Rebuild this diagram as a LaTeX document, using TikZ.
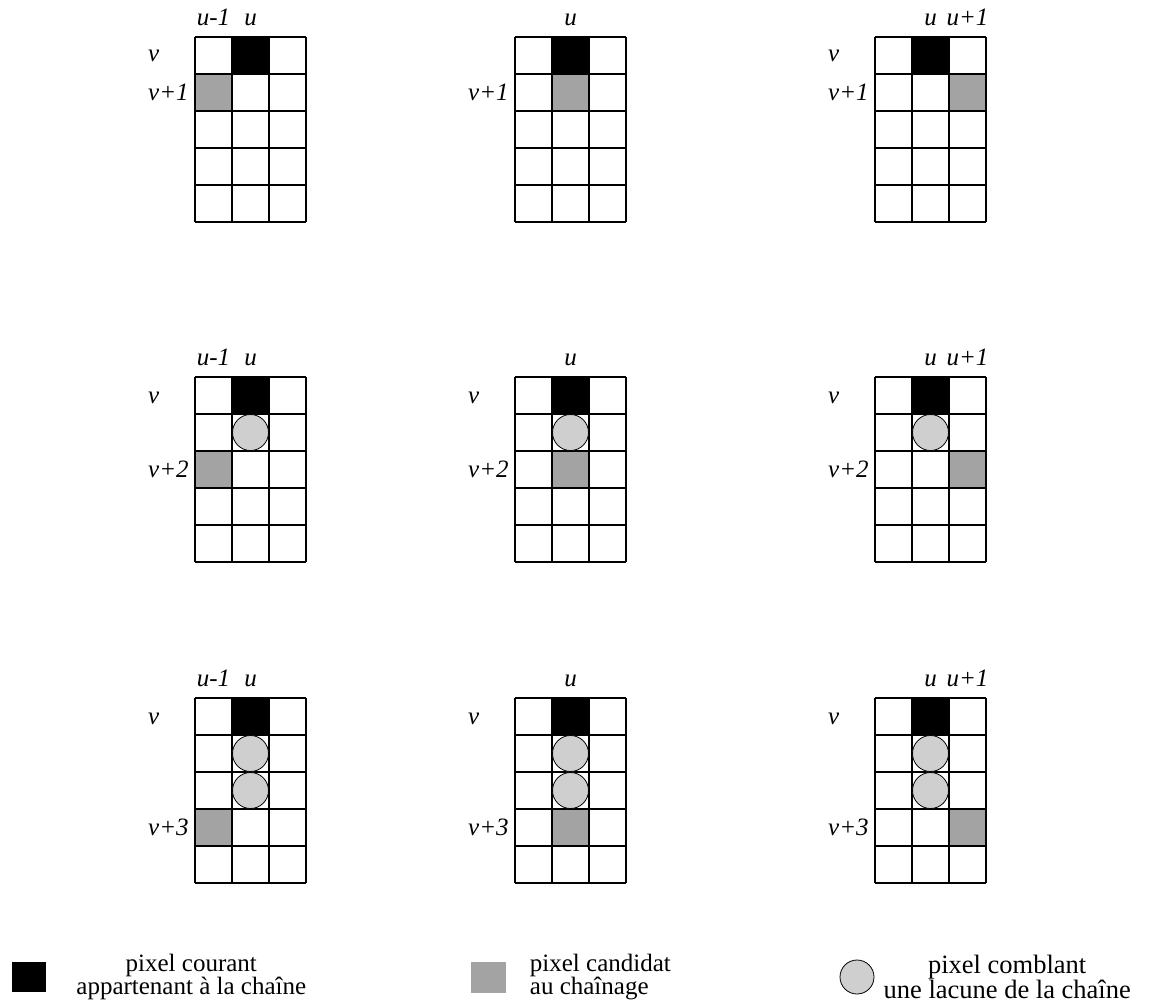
\documentclass[tikz,border=0pt]{standalone}
\usepackage{fontspec}
\setmainfont{Liberation Serif}
\usepackage{tikz}
\usetikzlibrary{positioning}

\tikzset{
  courant/.style={fill=black},
  candidat/.style={fill=gray!72},
  comblant/.style={draw=black, line width=0.8pt, fill=gray!38},
  grille/.style={draw=black, line width=1.1pt},
  etiq/.style={font=\fontsize{25}{25}\selectfont\itshape, inner sep=0pt},
  legende/.style={font=\fontsize{25}{20}\selectfont, align=center, inner sep=0pt}
}

\begin{document}
\begin{tikzpicture}[x=1pt,y=-1pt]
\useasboundingbox (0,0) rectangle (1156,1007);

% pixels courants et candidats (ligne v+1, v+2, v+3)
\foreach \gx/\c in {195/0,515/1,875/2}{
  \foreach \gy/\k in {37/1,377/2,698/3}{
    \fill[courant] (\gx+37,\gy) rectangle ++(37,37);
    \fill[candidat] (\gx+\c*37,\gy+\k*37) rectangle ++(37,37);
    % grille 3 x 5
    \foreach \i in {0,...,3} \draw[grille] (\gx+\i*37,\gy) -- ++(0,185);
    \foreach \j in {0,...,5} \draw[grille] (\gx,\gy+\j*37) -- ++(111,0);
  }
  % pixels comblant les lacunes
  \draw[comblant] (\gx+55.5,377+55.5) circle[radius=18pt];
  \draw[comblant] (\gx+55.5,698+55.5) circle[radius=18pt];
  \draw[comblant] (\gx+55.5,698+92.5) circle[radius=18pt];
}

% etiquettes des colonnes
\foreach \gy/\k in {37/1,377/2,698/3}{
  \node[etiq, anchor=base] (um-\k) at (195+18.5,\gy-12) {u-1};
  \node[etiq, anchor=base] (ua-\k) at (195+55.5,\gy-12) {u};
  \node[etiq, anchor=base] (ub-\k) at (515+55.5,\gy-12) {u};
  \node[etiq, anchor=base] (uc-\k) at (875+55.5,\gy-12) {u};
  \node[etiq, anchor=base] (up-\k) at (875+92.5,\gy-12) {u+1};
}

% etiquettes des lignes
\foreach \gx/\c in {195/a,515/b,875/c}{
  \node[etiq, anchor=base west] (vw1-\c) at (\gx-47,37+55.5+8) {v+1};
  \node[etiq, anchor=base west] (vw2-\c) at (\gx-47,377+92.5+8) {v+2};
  \node[etiq, anchor=base west] (vw3-\c) at (\gx-47,698+129.5+8) {v+3};
  \node[etiq, anchor=base west] (v2-\c) at (\gx-47,377+18.5+8) {v};
  \node[etiq, anchor=base west] (v3-\c) at (\gx-47,698+18.5+8) {v};
}
\node[etiq, anchor=base west] (v1-a) at (195-47,37+18.5+6) {v};
\node[etiq, anchor=base west] (v1-c) at (875-47,37+18.5+6) {v};

% legende
\node[courant, minimum width=34pt, minimum height=30pt, inner sep=0pt] (bcourant) at (29,977) {};
\node[legende, right=30pt of bcourant] (lcourant) {pixel courant\\appartenant à la chaîne};

\node[candidat, minimum width=35pt, minimum height=31pt, inner sep=0pt] (bcandidat) at (488,977) {};
\node[legende, align=left, right=24pt of bcandidat] (lcandidat) {pixel candidat\\au chaînage};

\node[comblant, circle, minimum size=34pt, inner sep=0pt] (bcomblant) at (857,977) {};
\node[legende, font=\fontsize{26.5}{20}\selectfont, right=9pt of bcomblant] (lcomblant) {pixel comblant\\une lacune de la chaîne};

\end{tikzpicture}
\end{document}
